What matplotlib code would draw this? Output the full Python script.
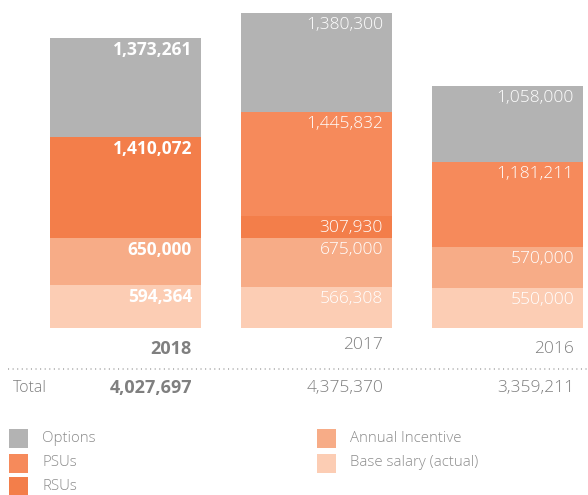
import matplotlib
matplotlib.use("Agg")
import matplotlib.pyplot as plt
from matplotlib.patches import Rectangle
from matplotlib.lines import Line2D
import numpy as np

plt.rcParams['font.family'] = ['Open Sans', 'DejaVu Sans']

years = ["2018", "2017", "2016"]
base_salary = [594364, 566308, 550000]
annual_incentive = [650000, 675000, 570000]
rsus = [1410072, 307930, 0]
psus = [0, 1445832, 1181211]
options = [1373261, 1380300, 1058000]

series_names = ["Base salary (actual)", "Annual Incentive", "RSUs", "PSUs", "Options"]
series_vals = [base_salary, annual_incentive, rsus, psus, options]
colors = {"Options": "#B3B3B3", "PSUs": "#F68A5B", "RSUs": "#F37E4A",
          "Annual Incentive": "#F7AC87", "Base salary (actual)": "#FCCDB4"}

W, H = 588, 495
DPI = 100
fig = plt.figure(figsize=(W / DPI, H / DPI), dpi=DPI)

bottom_px = 327.7
ax = fig.add_axes([0, 1 - bottom_px / H, 1, bottom_px / H])
ax.set_xlim(-125.5 / 191, (W - 125.5) / 191)
ax.set_ylim(0, bottom_px / 71.9e-6)
ax.axis('off')

def weight(i):
    return 'bold' if i == 0 else 'light'

bw = 151 / 191
x = np.arange(len(years))
cum = np.zeros(len(years))
for name, vals in zip(series_names, series_vals):
    vals = np.array(vals, dtype=float)
    ax.bar(x, vals, bw, bottom=cum, color=colors[name], linewidth=0)
    for i, v in enumerate(vals):
        if v > 0:
            ax.annotate(f"{int(v):,}", xy=(x[i] + bw / 2, cum[i] + v),
                        xytext=(-9, -12), textcoords='offset pixels',
                        ha='right', va='center', color='white', fontsize=12.5,
                        fontweight=weight(i))
    cum += vals

totals = cum
gray = "#7F7F7F"
year_offsets = [-21, -17, -21]
for i, yr in enumerate(years):
    ax.annotate(yr, xy=(x[i] + bw / 2, 0), xytext=(-9, year_offsets[i]),
                textcoords='offset pixels', ha='right', va='center', color=gray,
                fontsize=13 if i == 0 else 12.5, fontweight=weight(i),
                annotation_clip=False)
    ax.annotate(f"{int(totals[i]):,}", xy=(x[i] + bw / 2, 0), xytext=(-9, -60),
                textcoords='offset pixels', ha='right', va='center', color=gray,
                fontsize=13 if i == 0 else 12.5, fontweight=weight(i),
                annotation_clip=False)

def fy(ypx):
    return 1 - ypx / H

def fx(xpx):
    return xpx / W

fig.text(fx(13), fy(388), "Total", ha='left', va='center', color=gray,
         fontsize=11.5, fontweight='light')
fig.add_artist(Line2D([fx(8), fx(588)], [fy(369), fy(369)], transform=fig.transFigure,
                      color="#A5A5A5", linewidth=1.1, linestyle=(0, (0.7, 2.3))))

legend_items = [("Options", 9, 438), ("PSUs", 9, 463), ("RSUs", 9, 487),
                ("Annual Incentive", 317, 438), ("Base salary (actual)", 317, 463)]
for name, lx, ly in legend_items:
    fig.add_artist(Rectangle((fx(lx), fy(ly + 9.5)), 19 / W, 19 / H,
                             transform=fig.transFigure, color=colors[name], linewidth=0))
    fig.text(fx(lx + 33), fy(ly), name, ha='left', va='center', color="#8C8C8C",
             fontsize=10.8, fontweight='light')

fig.savefig("out.png", dpi=DPI)
